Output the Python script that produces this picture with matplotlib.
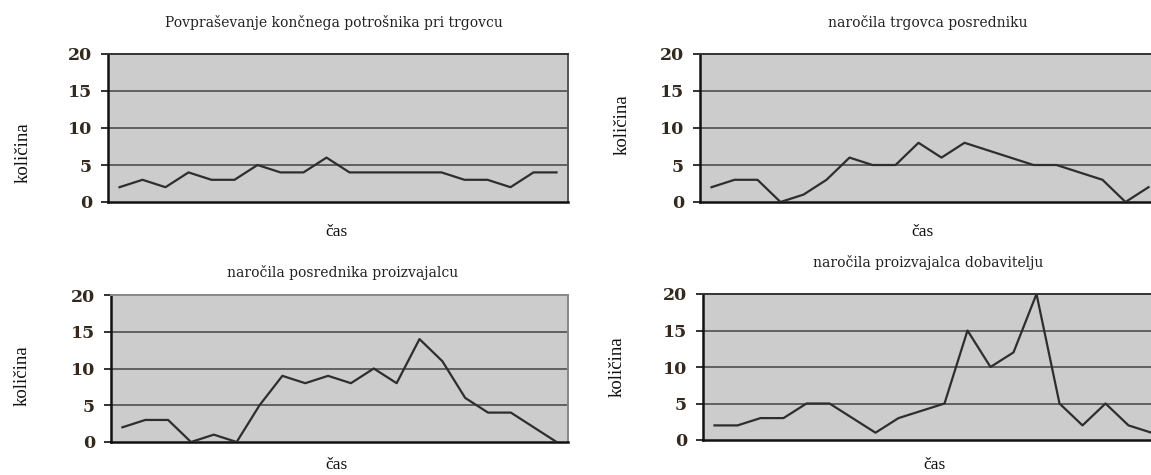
import matplotlib
matplotlib.use("Agg")
import matplotlib.pyplot as plt

# podatki (20 časovnih obdobij)
cas = list(range(20))
povprasevanje = [2, 3, 2, 4, 3, 3, 5, 4, 4, 6, 4, 4, 4, 4, 4, 3, 3, 2, 4, 4]
trgovec = [2, 3, 3, 0, 1, 3, 6, 5, 5, 8, 6, 8, 7, 6, 5, 5, 4, 3, 0, 2]
posrednik = [2, 3, 3, 0, 1, 0, 5, 9, 8, 9, 8, 10, 8, 14, 11, 6, 4, 4, 2, 0]
proizvajalec = [2, 2, 3, 3, 5, 5, 3, 1, 3, 4, 5, 15, 10, 12, 20, 5, 2, 5, 2, 1]

naslovi = ["Povpraševanje končnega potrošnika pri trgovcu",
           "naročila trgovca posredniku",
           "naročila posrednika proizvajalcu",
           "naročila proizvajalca dobavitelju"]
y_ticks = [0, 5, 10, 15, 20]

W, H = 1151, 475
fig = plt.figure(figsize=(W / 100, H / 100), dpi=100)


def px_axes(left, right, top, bottom):
    return fig.add_axes([left / W, (H - bottom) / H, (right - left) / W, (bottom - top) / H])


# (levo, desno, zgoraj, spodaj) v pikslih, barva zgornjega/desnega roba
paneli = [
    (px_axes(108, 568, 54, 202), povprasevanje, '#333333', '#555555'),
    (px_axes(700, 1160, 54, 202), trgovec, '#333333', '#555555'),
    (px_axes(111, 568, 295, 442), posrednik, '#888888', '#888888'),
    (px_axes(703, 1163, 294, 440), proizvajalec, '#333333', '#555555'),
]

for ax, data, top_c, right_c in paneli:
    ax.set_facecolor('#cccccc')
    ax.set_xlim(-0.5, 19.5)
    ax.set_ylim(0, 20)
    for y in y_ticks[1:-1]:
        ax.axhline(y, color='#444444', lw=1.1, zorder=1)
    ax.plot(cas, data, color='#2e2e2e', lw=1.6, zorder=3, clip_on=True)
    ax.set_xticks([])
    ax.set_yticks(y_ticks)
    ax.set_yticklabels([str(v) for v in y_ticks], fontfamily='DejaVu Serif',
                       fontweight='bold', fontsize=12.5, color='#33291f')
    ax.tick_params(axis='y', direction='out', length=5, width=1.3, pad=6.5, color='#222222')
    ax.spines['left'].set_linewidth(1.8)
    ax.spines['left'].set_color('#111111')
    ax.spines['bottom'].set_linewidth(1.8)
    ax.spines['bottom'].set_color('#111111')
    ax.spines['top'].set_color(top_c)
    ax.spines['top'].set_linewidth(1.4)
    ax.spines['right'].set_color(right_c)
    ax.spines['right'].set_linewidth(1.4)

# naslovi, osi
naslov_pos = [(334, 23), (928, 22), (343, 273), (928, 263)]
ylabel_pos = [(23, 153), (622, 125), (22, 376), (617, 367)]
xlabel_pos = [(336, 232), (923, 232), (336, 465), (934, 465)]

for naslov, (tx, ty) in zip(naslovi, naslov_pos):
    fig.text(tx / W, 1 - ty / H, naslov, ha='center', va='center',
             fontfamily='DejaVu Serif', fontsize=10, color='#222222')
for (lx, ly) in ylabel_pos:
    fig.text(lx / W, 1 - ly / H, 'količina', ha='center', va='center', rotation=90,
             fontfamily='Liberation Serif', fontsize=13.5, color='#111111')
for (cx, cy) in xlabel_pos:
    fig.text(cx / W, 1 - cy / H, 'čas', ha='center', va='center',
             fontfamily='Liberation Serif', fontsize=12.5, color='#111111')

fig.savefig('out.png', dpi=100)
